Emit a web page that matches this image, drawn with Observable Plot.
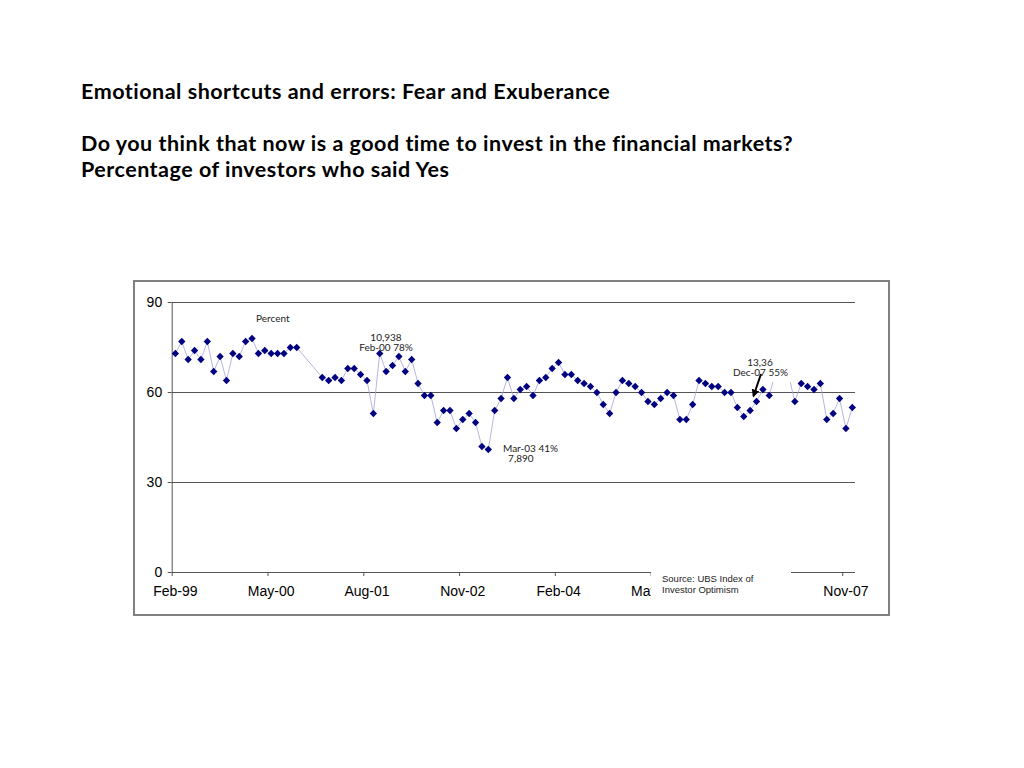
<!DOCTYPE html>
<html>
<head>
<meta charset="utf-8">
<script src="https://cdn.jsdelivr.net/npm/d3@7"></script>
<script src="https://cdn.jsdelivr.net/npm/@observablehq/plot@0.6"></script>
<style>
  body { margin:0; background:#fff; width:1024px; height:768px; position:relative; overflow:hidden; font-family:Lato, "Noto Sans", sans-serif; }
  .title { position:absolute; left:81px; font-weight:bold; font-size:21.5px; letter-spacing:0.5px; color:#000; white-space:nowrap; line-height:26px; }
  #frame { position:absolute; left:133px; top:280px; width:757px; height:336px; box-sizing:border-box; border:2px solid #808080; }
  #chart { position:absolute; left:133px; top:280px; }
  .note { position:absolute; font-family:Lato, sans-serif; font-size:10px; line-height:10px; color:#222; white-space:nowrap; }
  .box { position:absolute; background:#fff; }
  .src { position:absolute; font-family:"Liberation Sans", Arial, sans-serif; font-size:9.5px; line-height:11px; color:#222; white-space:nowrap; }
</style>
</head>
<body>
<div class="title" style="top:78px">Emotional shortcuts and errors: Fear and Exuberance</div>
<div class="title" style="top:130px">Do you think that now is a good time to invest in the financial markets?<br>Percentage of investors who said Yes</div>
<div id="frame"></div>
<div id="chart"></div>

<script>
// Monthly series, Feb-99 .. Dec-07 (null = month not reported)
const startYear = 1999;
const startMonth = 1; // February (0-based)
const monthNames = ["Jan","Feb","Mar","Apr","May","Jun","Jul","Aug","Sep","Oct","Nov","Dec"];
const values = [
  73, 77, 71, 74, 71, 77, 67, 72, 64, 73, 72, 77, 78, 73, 74, 73, 73, 73, 75, 75,
  null, null, null,
  65, 64, 65, 64, 68, 68, 66, 64, 53, 73, 67, 69, 72, 67, 71, 63, 59, 59, 50, 54, 54,
  48, 51, 53, 50, 42, 41, 54, 58, 65, 58, 61, 62, 59, 64, 65, 68, 70, 66, 66, 64,
  63, 62, 60, 56, 53, 60, 64, 63, 62, 60, 57, 56, 58, 60, 59, 51, 51, 56, 64, 63,
  62, 62, 60, 60, 55, 52, 54, 57, 61, 59, 67, 65, 66, 57, 63, 62, 61, 63, 51, 53,
  58, 48, 55
];
const tickIndex = [0, 15, 30, 45, 60, 75, 90, 105];
const tickLabels = ["Feb-99", "May-00", "Aug-01", "Nov-02", "Feb-04", "May-05", "Aug-06", "Nov-07"];
const yTicks = [0, 30, 60, 90];

const monthLabel = i => {
  const m = startMonth + i;
  const y = startYear + Math.floor(m / 12);
  return monthNames[m % 12] + "-" + String(y % 100).padStart(2, "0");
};
const data = values
  .map((v, i) => ({i, month: monthLabel(i), v}))
  .filter(d => d.v != null);
const labelPos = tickIndex.map(i => i + 0.5);

const chart = Plot.plot({
  width: 757,
  height: 336,
  marginLeft: 38.7,
  marginRight: 35,
  marginTop: 22,
  marginBottom: 44,
  style: {fontFamily: "'Liberation Sans', Arial, sans-serif", fontSize: "14px", color: "#000", background: "transparent"},
  x: {domain: [0, values.length], axis: null},
  y: {domain: [0, 90], axis: null},
  marks: [
    Plot.gridY([30, 60, 90], {stroke: "#555", strokeOpacity: 1, strokeWidth: 1}),
    Plot.ruleY([0], {stroke: "#555", strokeWidth: 1}),
    Plot.ruleX([0], {stroke: "#555", strokeWidth: 1}),
    Plot.axisY(yTicks, {tickSize: 4, tickPadding: 6, stroke: "#555", fill: "#000", label: null}),
    Plot.axisX(tickIndex, {tickSize: 4, stroke: "#555", tickFormat: () => "", label: null}),
    Plot.axisX(labelPos, {tickSize: 0, tickPadding: 14, fill: "#000", label: null,
      tickFormat: p => tickLabels[labelPos.indexOf(p)]}),
    Plot.line(data, {x: d => d.i + 0.5, y: "v", stroke: "#a3a3d9", strokeWidth: 0.8}),
    Plot.dot(data, {x: d => d.i + 0.5, y: "v", symbol: "diamond2", r: 3.3, fill: "#000080", stroke: "none"})
  ]
});
document.getElementById("chart").appendChild(chart);
</script>

<!-- slide text boxes laid over the chart -->
<div class="note" style="left:256px; top:313px;">Percent</div>
<div class="note" style="left:359px; top:332px; width:54px; text-align:center;">10,938<br>Feb-00 78%</div>
<div class="note" style="left:503px; top:443px;">Mar-03 41%<br>&nbsp;&nbsp;7,890</div>
<div class="box" style="left:726px; top:352px; width:69px; height:29.5px;"></div>
<div class="note" style="left:733px; top:357px; width:54px; text-align:center;">13,36<br>Dec-07 55%</div>
<svg style="position:absolute; left:0; top:0;" width="1024" height="768">
  <defs>
    <marker id="ah" viewBox="0 0 10 10" refX="8" refY="5" markerWidth="4" markerHeight="4" orient="auto">
      <path d="M0,0 L10,5 L0,10 z" fill="#000"/>
    </marker>
  </defs>
  <line x1="761" y1="374" x2="753.5" y2="396" stroke="#000" stroke-width="2" marker-end="url(#ah)"/>
</svg>
<div class="box" style="left:651px; top:566px; width:140px; height:34px;"></div>
<div class="src" style="left:662px; top:573px;">Source: UBS Index of<br>Investor Optimism</div>
</body>
</html>
